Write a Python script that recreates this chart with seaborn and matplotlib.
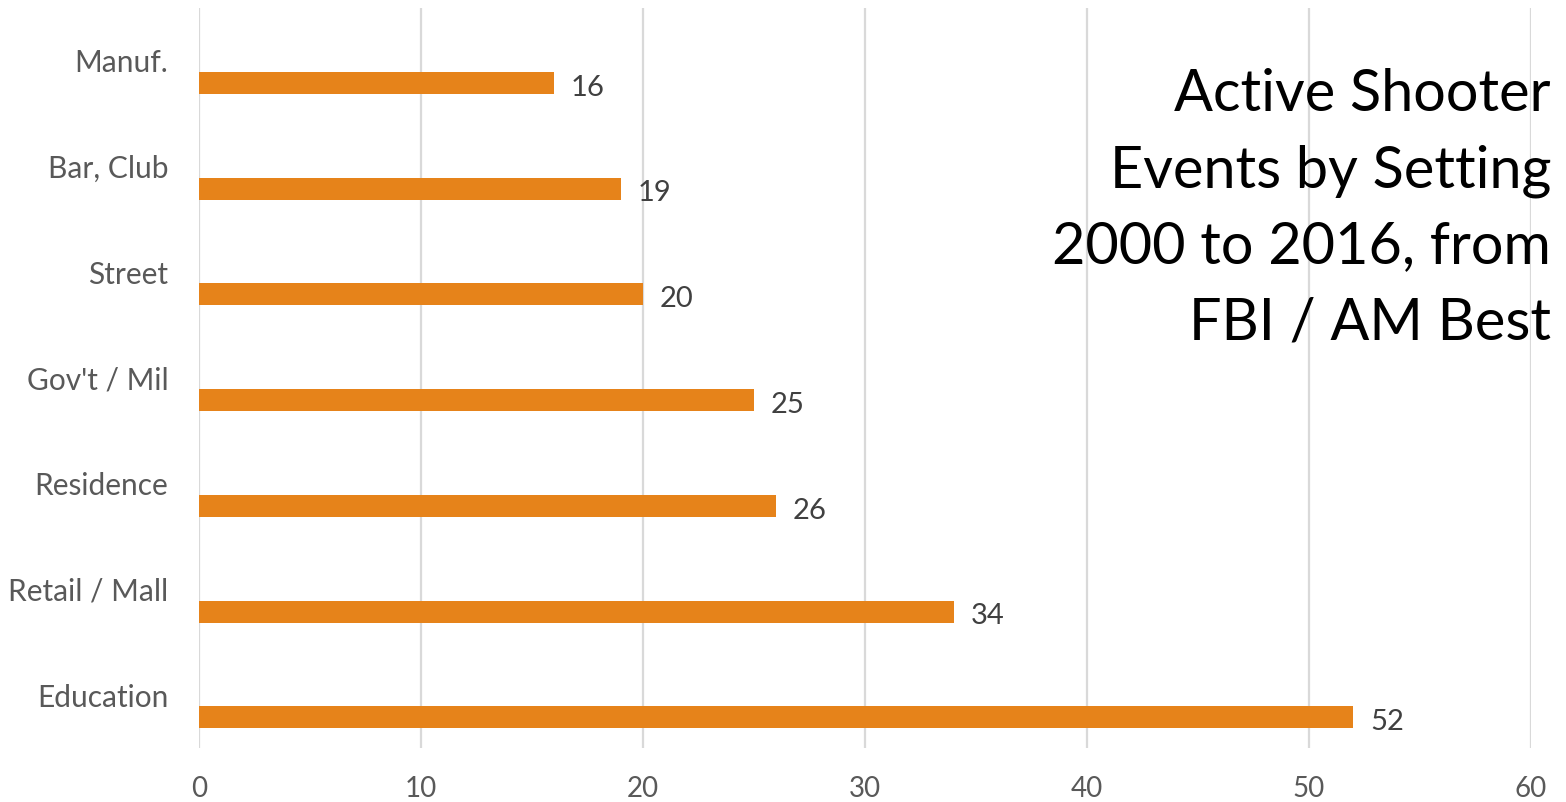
import matplotlib
matplotlib.use("Agg")
import matplotlib.pyplot as plt
import seaborn as sns
import pandas as pd
import numpy as np

categories = ["Manuf.", "Bar, Club", "Street", "Gov't / Mil", "Residence", "Retail / Mall", "Education"]
values = [16, 19, 20, 25, 26, 34, 52]
x_ticks = [0, 10, 20, 30, 40, 50, 60]
title_lines = ["Active Shooter", "Events by Setting", "2000 to 2016, from", "FBI / AM Best"]

sns.set_theme(style="white")
plt.rcParams["font.family"] = ["Lato", "DejaVu Sans"]

BAR = "#E6831A"
GRID = "#D9D9D9"
TXT = "#595959"

fig = plt.figure(figsize=(15.66, 8.02), dpi=100)
ax = fig.add_axes([199 / 1566, 1 - 748 / 802, (1531 - 199) / 1566, (748 - 8) / 802])

offset = 0.21
df = pd.DataFrame({"pos": np.arange(len(categories)) + offset, "value": values})
sns.barplot(data=df, x="value", y="pos", orient="y", native_scale=True,
            width=0.208, color=BAR, saturation=1, ax=ax, linewidth=0)

ax.set_xlim(0, 60)
ax.set_ylim(len(categories) - 0.5, -0.5)
ax.set_xticks(x_ticks)
ax.set_xticklabels([str(t) for t in x_ticks], fontsize=20, color=TXT)
ax.set_yticks(np.arange(len(categories)))
ax.set_yticklabels(categories, fontsize=21.5, color=TXT)
ax.tick_params(axis="y", length=0, pad=22)
ax.tick_params(axis="x", length=0, pad=20)
ax.set_xlabel("")
ax.set_ylabel("")
for t in x_ticks:
    ax.axvline(t, color=GRID, lw=1.6, zorder=0)
for s in ax.spines.values():
    s.set_visible(False)

for p, v in zip(df["pos"], values):
    ax.text(v + 0.75, p + 0.02, str(v), va="center_baseline", ha="left", fontsize=21, color="#404040")

baselines = [111, 187, 263, 340]
for line, b in zip(title_lines, baselines):
    fig.text(1551 / 1566, 1 - b / 802, line, ha="right", va="baseline",
             fontsize=41.5, color="black")

fig.savefig("out.png", dpi=100)
